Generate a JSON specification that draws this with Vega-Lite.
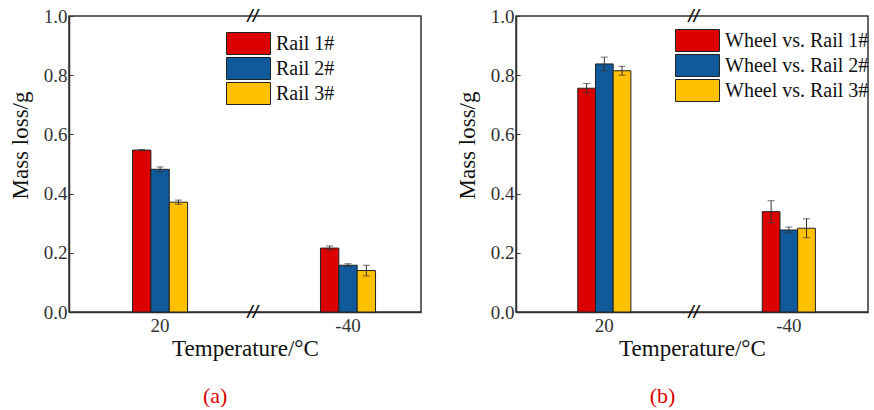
{
  "$schema": "https://vega.github.io/schema/vega-lite/v6.json",
  "background": "white",
  "padding": {"left": 8, "top": 6, "right": 0, "bottom": 0},
  "spacing": 33,
  "datasets": {
    "a": [
      {"temp": "20", "sample": "Rail 1#", "value": 0.547, "lo": 0.545, "hi": 0.549},
      {"temp": "20", "sample": "Rail 2#", "value": 0.482, "lo": 0.474, "hi": 0.490},
      {"temp": "20", "sample": "Rail 3#", "value": 0.371, "lo": 0.364, "hi": 0.378},
      {"temp": "-40", "sample": "Rail 1#", "value": 0.216, "lo": 0.209, "hi": 0.223},
      {"temp": "-40", "sample": "Rail 2#", "value": 0.158, "lo": 0.153, "hi": 0.163},
      {"temp": "-40", "sample": "Rail 3#", "value": 0.140, "lo": 0.122, "hi": 0.158}
    ],
    "b": [
      {"temp": "20", "sample": "Wheel vs. Rail 1#", "value": 0.756, "lo": 0.740, "hi": 0.772},
      {"temp": "20", "sample": "Wheel vs. Rail 2#", "value": 0.838, "lo": 0.815, "hi": 0.861},
      {"temp": "20", "sample": "Wheel vs. Rail 3#", "value": 0.815, "lo": 0.800, "hi": 0.830},
      {"temp": "-40", "sample": "Wheel vs. Rail 1#", "value": 0.339, "lo": 0.302, "hi": 0.376},
      {"temp": "-40", "sample": "Wheel vs. Rail 2#", "value": 0.277, "lo": 0.267, "hi": 0.287},
      {"temp": "-40", "sample": "Wheel vs. Rail 3#", "value": 0.283, "lo": 0.251, "hi": 0.315}
    ],
    "brk": [
      {"temp": "20", "yv": 0, "t": "//"},
      {"temp": "20", "yv": 1, "t": "//"}
    ]
  },
  "hconcat": [
    {
      "width": 352,
      "height": 296,
      "title": {"text": "(a)", "orient": "bottom", "anchor": "middle", "frame": "bounds", "color": "#e00000", "fontSize": 22, "font": "Liberation Serif", "fontWeight": "normal", "offset": 26},
      "layer": [
        {
          "data": {"name": "a"},
          "mark": {"type": "bar", "stroke": "#222", "strokeWidth": 1},
          "encoding": {
            "x": {"field": "temp", "type": "nominal", "sort": ["20", "-40"],
                  "scale": {"paddingInner": 0.707, "paddingOuter": 0.29, "align": 0.583},
                  "axis": {"title": "Temperature/°C", "labelAngle": 0, "bandPosition": 0.5}},
            "xOffset": {"field": "sample", "type": "nominal", "scale": {"paddingInner": 0, "paddingOuter": 0}},
            "y": {"field": "value", "type": "quantitative", "scale": {"domain": [0, 1], "nice": false},
                  "axis": {"title": "Mass loss/g", "values": [0, 0.2, 0.4, 0.6, 0.8, 1.0], "format": ".1f", "titleY": 129}},
            "color": {"field": "sample", "type": "nominal",
                      "scale": {"range": ["#dc0000", "#10599b", "#ffc000"]},
                      "legend": {"orient": "none", "legendX": 168, "legendY": 16, "title": null}}
          }
        },
        {
          "data": {"name": "a"},
          "mark": {"type": "rule", "color": "#333", "strokeWidth": 1},
          "encoding": {
            "x": {"field": "temp", "type": "nominal", "sort": ["20", "-40"]},
            "xOffset": {"field": "sample", "type": "nominal"},
            "y": {"field": "lo", "type": "quantitative"},
            "y2": {"field": "hi"}
          }
        },
        {
          "data": {"name": "a"},
          "mark": {"type": "tick", "color": "#333", "size": 7, "thickness": 1},
          "encoding": {
            "x": {"field": "temp", "type": "nominal", "sort": ["20", "-40"]},
            "xOffset": {"field": "sample", "type": "nominal"},
            "y": {"field": "lo", "type": "quantitative"}
          }
        },
        {
          "data": {"name": "a"},
          "mark": {"type": "tick", "color": "#333", "size": 7, "thickness": 1},
          "encoding": {
            "x": {"field": "temp", "type": "nominal", "sort": ["20", "-40"]},
            "xOffset": {"field": "sample", "type": "nominal"},
            "y": {"field": "hi", "type": "quantitative"}
          }
        },
        {
          "data": {"name": "brk"},
          "mark": {"type": "text", "fontSize": 15, "fontWeight": "bold", "font": "DejaVu Sans", "fontStyle": "italic", "color": "#111", "baseline": "middle", "align": "center"},
          "encoding": {
            "x": {"field": "temp", "type": "nominal", "sort": ["20", "-40"], "bandPosition": 2.19},
            "y": {"field": "yv", "type": "quantitative"},
            "text": {"field": "t"}
          }
        }
      ],
      "resolve": {"scale": {"xOffset": "independent"}}
    },
    {
      "width": 352,
      "height": 296,
      "title": {"text": "(b)", "orient": "bottom", "anchor": "middle", "frame": "bounds", "color": "#e00000", "fontSize": 22, "font": "Liberation Serif", "fontWeight": "normal", "offset": 26},
      "layer": [
        {
          "data": {"name": "b"},
          "mark": {"type": "bar", "stroke": "#222", "strokeWidth": 1},
          "encoding": {
            "x": {"field": "temp", "type": "nominal", "sort": ["20", "-40"],
                  "scale": {"paddingInner": 0.712, "paddingOuter": 0.31, "align": 0.54},
                  "axis": {"title": "Temperature/°C", "labelAngle": 0, "bandPosition": 0.5}},
            "xOffset": {"field": "sample", "type": "nominal", "scale": {"paddingInner": 0, "paddingOuter": 0}},
            "y": {"field": "value", "type": "quantitative", "scale": {"domain": [0, 1], "nice": false},
                  "axis": {"title": "Mass loss/g", "values": [0, 0.2, 0.4, 0.6, 0.8, 1.0], "format": ".1f", "titleY": 129}},
            "color": {"field": "sample", "type": "nominal",
                      "scale": {"range": ["#dc0000", "#10599b", "#ffc000"]},
                      "legend": {"orient": "none", "legendX": 170, "legendY": 13, "title": null}}
          }
        },
        {
          "data": {"name": "b"},
          "mark": {"type": "rule", "color": "#333", "strokeWidth": 1},
          "encoding": {
            "x": {"field": "temp", "type": "nominal", "sort": ["20", "-40"]},
            "xOffset": {"field": "sample", "type": "nominal"},
            "y": {"field": "lo", "type": "quantitative"},
            "y2": {"field": "hi"}
          }
        },
        {
          "data": {"name": "b"},
          "mark": {"type": "tick", "color": "#333", "size": 7, "thickness": 1},
          "encoding": {
            "x": {"field": "temp", "type": "nominal", "sort": ["20", "-40"]},
            "xOffset": {"field": "sample", "type": "nominal"},
            "y": {"field": "lo", "type": "quantitative"}
          }
        },
        {
          "data": {"name": "b"},
          "mark": {"type": "tick", "color": "#333", "size": 7, "thickness": 1},
          "encoding": {
            "x": {"field": "temp", "type": "nominal", "sort": ["20", "-40"]},
            "xOffset": {"field": "sample", "type": "nominal"},
            "y": {"field": "hi", "type": "quantitative"}
          }
        },
        {
          "data": {"name": "brk"},
          "mark": {"type": "text", "fontSize": 15, "fontWeight": "bold", "font": "DejaVu Sans", "fontStyle": "italic", "color": "#111", "baseline": "middle", "align": "center"},
          "encoding": {
            "x": {"field": "temp", "type": "nominal", "sort": ["20", "-40"], "bandPosition": 2.19},
            "y": {"field": "yv", "type": "quantitative"},
            "text": {"field": "t"}
          }
        }
      ],
      "resolve": {"scale": {"xOffset": "independent"}}
    }
  ],
  "resolve": {"scale": {"color": "independent", "x": "independent", "y": "independent", "xOffset": "independent"}},
  "config": {
    "view": {"stroke": "#333", "strokeWidth": 1.5},
    "axis": {
      "grid": false,
      "zindex": 1,
      "domainColor": "#333",
      "domainWidth": 1.5,
      "tickColor": "#333",
      "tickWidth": 1,
      "tickSize": -4,
      "labelFont": "Liberation Serif",
      "labelFontSize": 19,
      "labelColor": "#333",
      "labelPadding": 6,
      "titleFont": "Liberation Serif",
      "titleFontSize": 23,
      "titleFontWeight": "normal",
      "titleColor": "#111",
      "titlePadding": 11
    },
    "axisX": {"labelPadding": 8, "titlePadding": 2},
    "legend": {
      "symbolType": "M-2,-1H2V1H-2Z",
      "symbolSize": 484,
      "symbolStrokeColor": "#222",
      "symbolStrokeWidth": 1,
      "symbolOpacity": 1,
      "labelFont": "Liberation Serif",
      "labelFontSize": 20,
      "labelColor": "#111",
      "labelOffset": 16,
      "rowPadding": -3,
      "padding": 0
    }
  }
}
